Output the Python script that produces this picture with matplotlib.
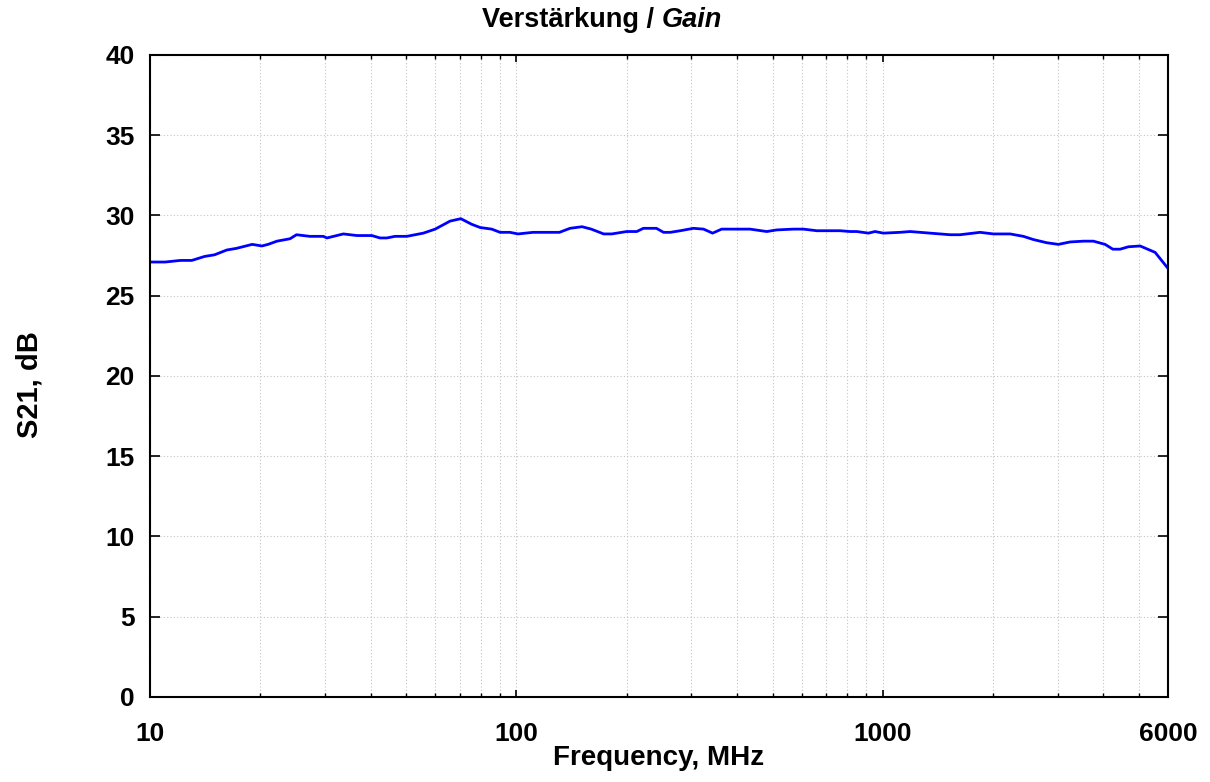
import matplotlib
matplotlib.use("Agg")
import matplotlib.pyplot as plt
from matplotlib.ticker import FixedLocator, NullFormatter, LogLocator

freq_mhz = [10, 11.0, 12.1, 13.0, 14.1, 15.0, 16.2, 17.2, 19.0, 20.2, 21.0, 22.2, 24.1, 25.1,
            27.3, 29.7, 30.4, 33.7, 36.7, 40.3, 42.4, 44.3, 46.6, 50.2, 55.7, 60.0, 65.9, 70.5,
            75.5, 79.6, 85.6, 90.2, 96.0, 101, 111, 131, 140, 151, 160, 173, 182, 200, 213,
            222, 241, 252, 263, 280, 304, 324, 343, 363, 434, 482, 513, 570, 607, 660, 764,
            814, 849, 913, 952, 1003, 1114, 1187, 1345, 1526, 1624, 1842, 2003, 2225, 2418,
            2575, 2802, 3013, 3243, 3526, 3754, 4041, 4241, 4441, 4677, 5035, 5534, 6000]
gain_db = [27.1, 27.1, 27.2, 27.2, 27.45, 27.55, 27.85, 27.95, 28.2, 28.1, 28.2, 28.4, 28.55, 28.8,
           28.7, 28.7, 28.6, 28.85, 28.75, 28.75, 28.6, 28.6, 28.7, 28.7, 28.9, 29.15, 29.65, 29.8,
           29.45, 29.25, 29.15, 28.95, 28.95, 28.85, 28.95, 28.95, 29.2, 29.3, 29.15, 28.85, 28.85, 29.0, 29.0,
           29.2, 29.2, 28.95, 28.95, 29.05, 29.2, 29.15, 28.9, 29.15, 29.15, 29.0, 29.1, 29.15, 29.15, 29.05, 29.05,
           29.0, 29.0, 28.9, 29.0, 28.9, 28.95, 29.0, 28.9, 28.8, 28.8, 28.95, 28.85, 28.85, 28.7,
           28.5, 28.3, 28.2, 28.35, 28.4, 28.4, 28.2, 27.9, 27.9, 28.05, 28.1, 27.7, 26.7]

x_ticks = [10, 100, 1000, 6000]
x_ticklabels = ["10", "100", "1000", "6000"]
y_ticks = [0, 5, 10, 15, 20, 25, 30, 35, 40]

plt.rcParams['font.family'] = ['Liberation Sans', 'DejaVu Sans']
plt.rcParams['font.weight'] = 'bold'

fig = plt.figure(figsize=(12.1, 7.82), dpi=100)
ax = fig.add_axes([0.124, 0.1087, 0.8413, 0.821])

ax.plot(freq_mhz, gain_db, color=(0, 0, 1), lw=2.0)
ax.set_xscale('log')
ax.set_xlim(10, 6000)
ax.set_ylim(0, 40)

ax.xaxis.set_major_locator(FixedLocator(x_ticks))
ax.set_xticklabels(x_ticklabels)
ax.xaxis.set_minor_locator(LogLocator(base=10, subs=range(2, 10), numticks=20))
ax.xaxis.set_minor_formatter(NullFormatter())
ax.set_yticks(y_ticks)

ax.grid(True, which='major', color='#c4c4c4', linestyle=(0, (1, 2)), linewidth=0.8)
ax.grid(True, which='minor', axis='x', color='#c4c4c4', linestyle=(0, (1, 2)), linewidth=0.8)

ax.tick_params(axis='both', which='major', direction='in', width=1.2,
               top=True, right=True, labelsize=19)
ax.tick_params(axis='x', which='major', length=5, pad=18)
ax.tick_params(axis='y', which='major', length=7, pad=11)
ax.tick_params(axis='both', which='minor', direction='in', length=3, width=1.0,
               top=True, right=True)
for lab in ax.get_xticklabels() + ax.get_yticklabels():
    lab.set_fontweight('bold')
for s in ax.spines.values():
    s.set_linewidth(1.5)

fig.text(0.124 + 0.8413 / 2, 1 - 758 / 782, "Frequency, MHz",
         fontsize=20, fontweight='bold', ha='center', va='center')
fig.text(29 / 1210, 1 - 385 / 782, "S21, dB", fontsize=21, fontweight='bold',
         ha='center', va='center', rotation=90)

split_x = 662 / 1210
fig.text(split_x, 1 - 20 / 782, "Verstärkung / ", fontsize=19.5, fontweight='bold', ha='right', va='center')
fig.text(split_x, 1 - 20 / 782, "Gain", fontsize=19.5, fontweight='bold', style='italic', ha='left', va='center')

fig.savefig("out.png", dpi=100)
